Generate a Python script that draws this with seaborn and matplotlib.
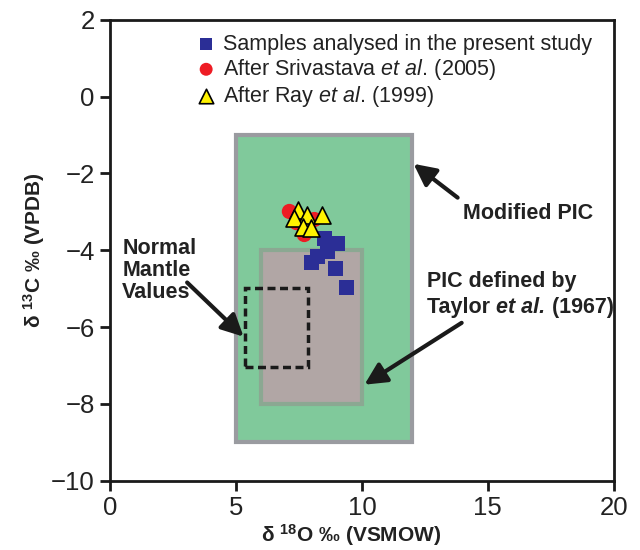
import matplotlib
matplotlib.use("Agg")
import matplotlib.pyplot as plt
from matplotlib.patches import Rectangle
import seaborn as sns
import pandas as pd

# ---- data ----
study_x = [8.51, 9.03, 8.23, 8.63, 7.99, 8.95, 9.38]
study_y = [-3.70, -3.83, -4.17, -4.04, -4.32, -4.48, -4.97]
sriv_x = [7.12, 7.40, 7.71, 8.11]
sriv_y = [-2.99, -3.28, -3.59, -3.20]
ray_x = [7.48, 7.83, 8.43, 7.32, 7.67, 7.99]
ray_y = [-2.94, -3.07, -3.07, -3.15, -3.39, -3.41]

series_labels = ["Samples analysed in the present study",
                 r"After Srivastava $\mathit{et\ al.}\,$(2005)",
                 r"After Ray $\mathit{et\ al.}\,$(1999)"]

modified_pic = (5, 12, -9, -1)      # x0, x1, y0, y1
pic_taylor = (6, 10, -8, -4)
normal_mantle = (5.35, 7.85, -7.05, -4.97)

x_ticks = [0, 5, 10, 15, 20]
y_ticks = [2, 0, -2, -4, -6, -8, -10]

sns.set_theme(style="white")
plt.rcParams['font.family'] = ['Liberation Sans', 'DejaVu Sans']
plt.rcParams['mathtext.fontset'] = 'custom'
plt.rcParams['mathtext.rm'] = 'Liberation Sans'
plt.rcParams['mathtext.it'] = 'Liberation Sans:italic'
plt.rcParams['mathtext.bf'] = 'Liberation Sans:bold'

df = pd.concat([
    pd.DataFrame({"x": study_x, "y": study_y, "src": series_labels[0]}),
    pd.DataFrame({"x": sriv_x, "y": sriv_y, "src": series_labels[1]}),
    pd.DataFrame({"x": ray_x, "y": ray_y, "src": series_labels[2]}),
], ignore_index=True)

fig = plt.figure(figsize=(6.4, 5.5), dpi=100)
ax = fig.add_axes([0.172, 0.126, 0.787, 0.838])

# rectangles
g = modified_pic
ax.add_patch(Rectangle((g[0], g[2]), g[1]-g[0], g[3]-g[2], facecolor='#80C99B',
                       edgecolor='#9A9BA0', lw=3, zorder=1))
p = pic_taylor
ax.add_patch(Rectangle((p[0], p[2]), p[1]-p[0], p[3]-p[2], facecolor='#B1A6A5',
                       edgecolor='#8BA892', lw=3, zorder=2))
n = normal_mantle
ax.add_patch(Rectangle((n[0], n[2]), n[1]-n[0], n[3]-n[2], facecolor='none',
                       edgecolor='#1a1a1a', lw=2.5, linestyle=(0, (2.3, 1.3)), zorder=3))

palette = {series_labels[0]: '#2B2E96', series_labels[1]: '#EE1C24', series_labels[2]: '#FFF200'}
markers = {series_labels[0]: 's', series_labels[1]: 'o', series_labels[2]: '^'}
sizes = {series_labels[0]: 110, series_labels[1]: 120, series_labels[2]: 150}
edges = {series_labels[0]: 'none', series_labels[1]: 'none', series_labels[2]: 'black'}

for lab in series_labels:
    sub = df[df.src == lab]
    sns.scatterplot(data=sub, x="x", y="y", ax=ax, color=palette[lab], marker=markers[lab],
                    s=sizes[lab], edgecolor=edges[lab], linewidth=1.2, label=lab, zorder=5)

ax.set_xlim(0, 20)
ax.set_ylim(-10, 2)
ax.set_xticks(x_ticks)
ax.set_yticks(y_ticks)
ax.set_xticklabels([str(t) for t in x_ticks])
ax.set_yticklabels([str(t).replace('-', '\u2212') for t in y_ticks])
for s in ax.spines.values():
    s.set_color('#1a1a1a')
    s.set_linewidth(2)
ax.tick_params(axis='both', which='both', direction='out', length=7, width=2,
               color='#1a1a1a', labelsize=18.5, labelcolor='#222222', pad=4,
               left=True, bottom=True, top=False, right=False)

ax.set_xlabel(r"δ $^{\mathbf{18}}$O ‰ (VSMOW)", fontsize=15, fontweight='bold', color='#222222')
ax.set_ylabel(r"δ $^{\mathbf{13}}$C ‰ (VPDB)", fontsize=15, fontweight='bold', color='#222222')
ax.xaxis.set_label_coords(0.478, -0.09)
ax.yaxis.set_label_coords(-0.125, 0.5)

leg = ax.legend(loc='upper left', bbox_to_anchor=(0.148, 0.993), frameon=False,
                fontsize=15.5, handletextpad=0.3, labelspacing=0.1, borderpad=0,
                handlelength=1.0, markerscale=0.85)
for t in leg.get_texts():
    t.set_color('#222222')

arrow = dict(arrowstyle='-|>,head_length=1.1,head_width=0.55', color='#1a1a1a', lw=3,
             shrinkA=0, shrinkB=0)
fs_ann = 15.5
ax.annotate('', xy=(12.05, -1.75), xytext=(13.8, -2.63), arrowprops=arrow, zorder=6)
ax.text(14.0, -3.05, 'Modified PIC', fontsize=fs_ann, fontweight='bold', ha='left', va='center',
        color='#222222')

ax.annotate('', xy=(5.3, -6.25), xytext=(3.06, -4.84), arrowprops=arrow, zorder=6)
ax.text(0.48, -4.53, 'Normal\nMantle\nValues', fontsize=fs_ann, fontweight='bold', ha='left',
        va='center', color='#222222', linespacing=1.08)

ax.annotate('', xy=(10.1, -7.5), xytext=(13.96, -5.89), arrowprops=arrow, zorder=6)
ax.text(12.6, -4.82, 'PIC defined by', fontsize=fs_ann, fontweight='bold', ha='left',
        va='center', color='#222222')
t1 = ax.text(12.6, -5.5, 'Taylor ', fontsize=fs_ann, fontweight='bold', ha='left',
             va='center', color='#222222')
t2 = ax.annotate('et al.', xy=(1, 0), xycoords=t1, va='bottom', ha='left', fontsize=fs_ann,
                 fontweight='bold', fontstyle='italic', color='#222222')
ax.annotate(' (1967)', xy=(1, 0), xycoords=t2, va='bottom', ha='left', fontsize=fs_ann,
            fontweight='bold', color='#222222')

fig.savefig('out.png', dpi=100)
